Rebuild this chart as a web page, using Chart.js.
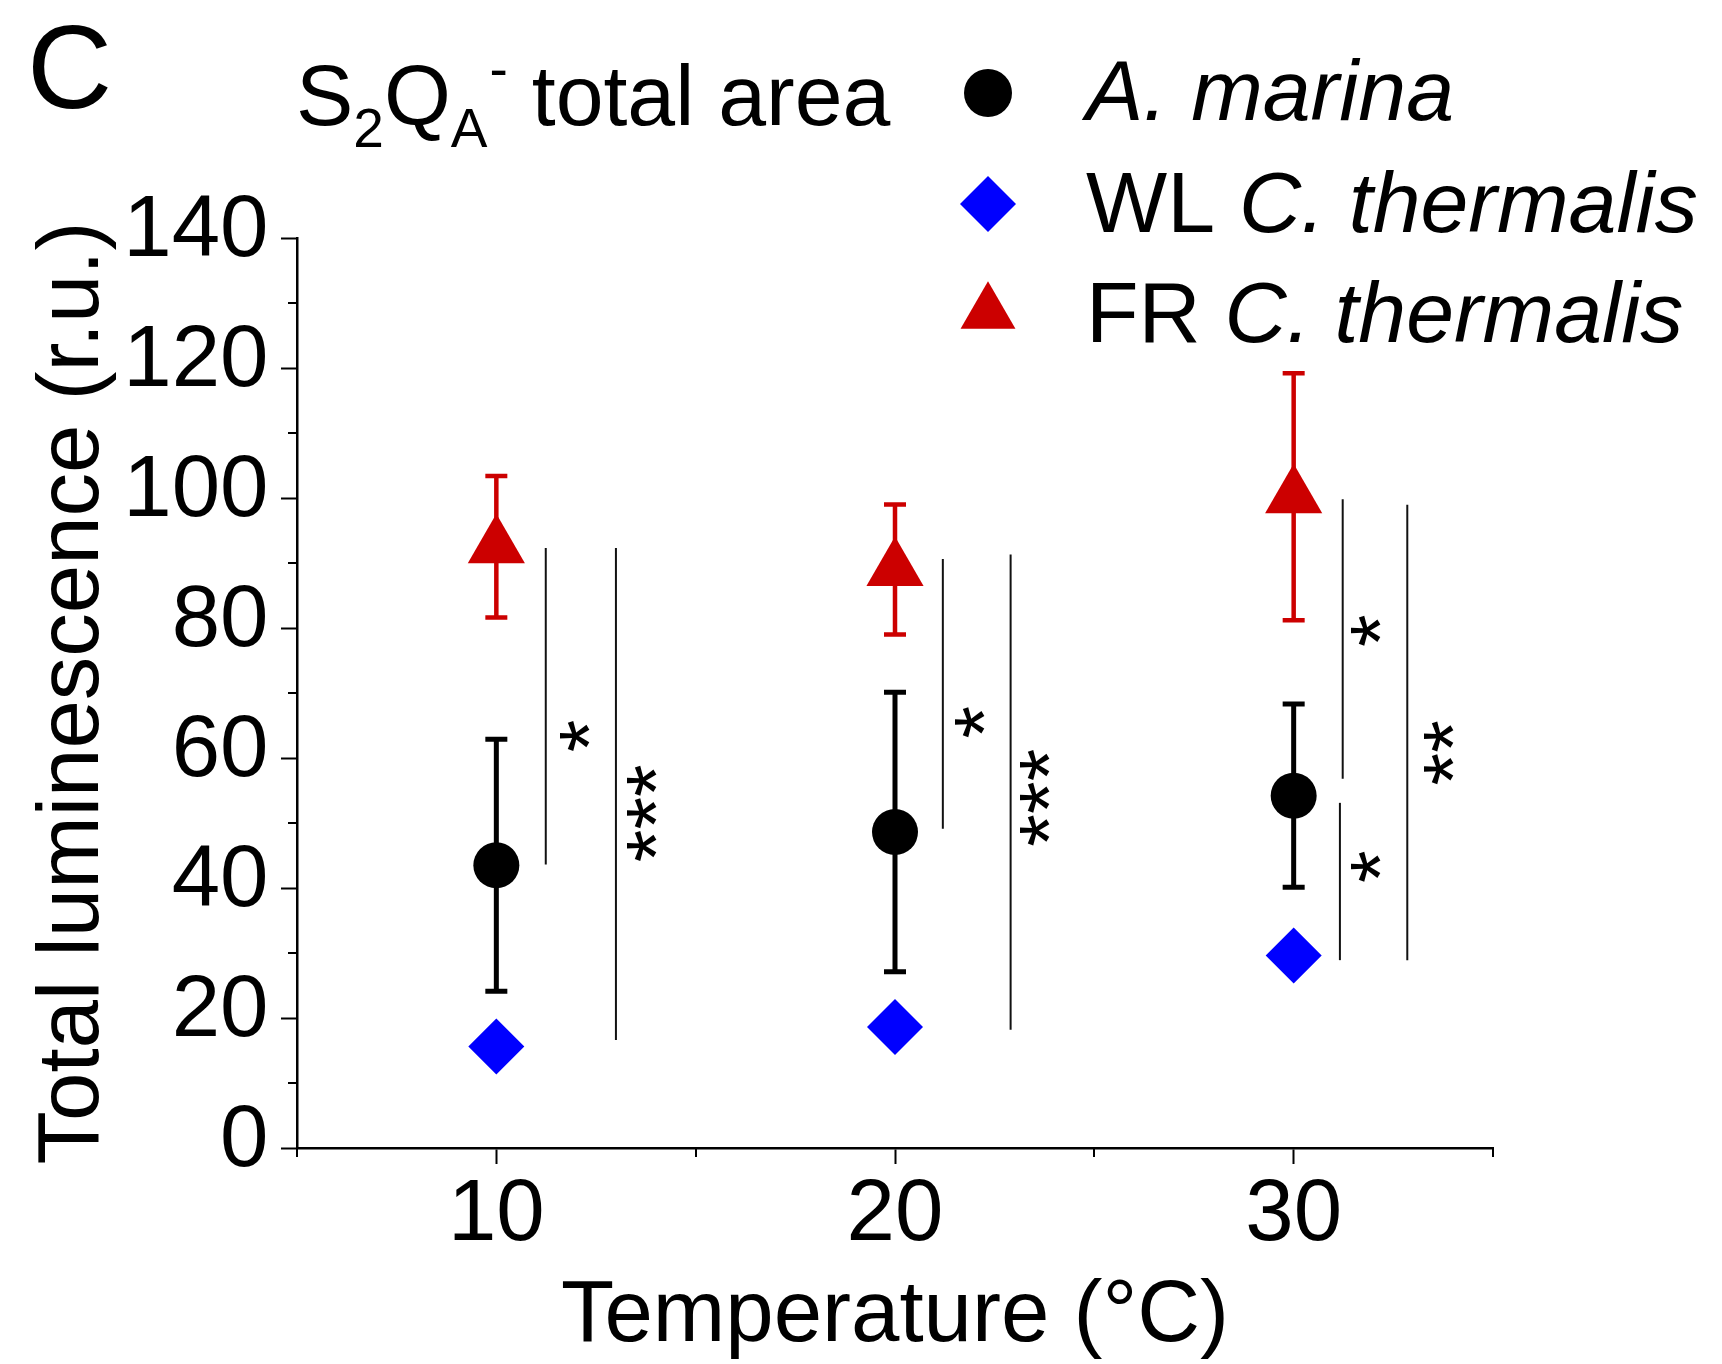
<!DOCTYPE html>
<html><head><meta charset="utf-8">
<script src="https://cdn.jsdelivr.net/npm/chart.js@4.4.1/dist/chart.umd.min.js"></script>
<style>html,body{margin:0;padding:0;background:#fff;} canvas{display:block;}</style>
</head><body>
<canvas id="c" width="1722" height="1364"></canvas>
<script>
// ---- data ----
const temperatures = [10, 20, 30];
const aMarinaMean = [43.5, 48.6, 54.2];
const aMarinaErr = [19.4, 21.5, 14.1];
const wlMean = [15.6, 18.6, 29.6];
const frMean = [92.5, 89.0, 100.2];
const frErr = [10.9, 10.0, 19.0];
const xTickLabels = [10, 20, 30];
const yTickLabels = [0, 20, 40, 60, 80, 100, 120, 140];
// significance brackets (x position, lower value, upper value)
const sigLineX = [11.24, 13.0, 21.2, 22.9, 31.23, 31.16, 32.85];
const sigLineLow = [43.6, 16.6, 49.1, 18.2, 56.8, 28.9, 28.9];
const sigLineHigh = [92.3, 92.3, 90.6, 91.3, 99.8, 53.1, 98.95];
// significance stars
const starX = [11.85, 13.52, 21.75, 23.38, 31.70, 31.70, 33.51];
const starY = [63.4, 51.5, 65.5, 53.9, 79.6, 43.3, 60.8];
const starText = ['*', '***', '*', '***', '*', '*', '**'];
// legend text: plain prefix + italic species name
const legendPrefix = ['', 'WL ', 'FR '];
const legendItalic = ['A. marina', 'C. thermalis', 'C. thermalis'];
const seriesNames = legendPrefix.map((p, i) => p + legendItalic[i]);

const FF = "'Liberation Sans', Arial, sans-serif";
const RED = '#cc0000', BLUE = '#0000ff', BLACK = '#000000';

const pts = arr => temperatures.map((t, i) => ({x: t, y: arr[i]}));

const datasets = [];
sigLineX.forEach((x, i) => {
  datasets.push({
    type: 'line', label: 'sig' + i,
    data: [{x: x, y: sigLineLow[i]}, {x: x, y: sigLineHigh[i]}],
    borderColor: '#111', borderWidth: 2, pointRadius: 0, fill: false, order: 10
  });
});
datasets.push({label: seriesNames[0], data: pts(aMarinaMean), err: aMarinaErr,
  pointStyle: 'circle', pointRadius: 23, backgroundColor: BLACK, borderColor: BLACK, pointBorderWidth: 0, errWidth: 5, order: 1});
datasets.push({label: seriesNames[1], data: pts(wlMean), err: null,
  pointStyle: 'rectRot', pointRadius: 28, backgroundColor: BLUE, borderColor: BLUE, pointBorderWidth: 0, order: 1});
datasets.push({label: seriesNames[2], data: pts(frMean), err: frErr,
  pointStyle: 'triangle', pointRadius: 33, backgroundColor: RED, borderColor: RED, pointBorderWidth: 0, errWidth: 4.5, order: 1});

const extras = {
  id: 'extras',
  beforeDatasetsDraw(chart) {
    const ctx = chart.ctx, xs = chart.scales.x, ys = chart.scales.y;
    ctx.save();
    chart.data.datasets.forEach(ds => {
      if (!ds.err) return;
      ctx.strokeStyle = ds.borderColor;
      ctx.lineWidth = ds.errWidth;
      ctx.lineCap = 'butt';
      ds.data.forEach((p, i) => {
        const px = xs.getPixelForValue(p.x);
        const t = ys.getPixelForValue(p.y + ds.err[i]);
        const b = ys.getPixelForValue(p.y - ds.err[i]);
        ctx.beginPath(); ctx.moveTo(px, t); ctx.lineTo(px, b); ctx.stroke();
        ctx.beginPath();
        ctx.moveTo(px - 11, t); ctx.lineTo(px + 11, t);
        ctx.moveTo(px - 11, b); ctx.lineTo(px + 11, b);
        ctx.stroke();
      });
    });
    ctx.restore();
  },
  afterDraw(chart) {
    const ctx = chart.ctx, xs = chart.scales.x, ys = chart.scales.y, ca = chart.chartArea;
    ctx.save();
    // minor ticks
    ctx.strokeStyle = '#000'; ctx.lineWidth = 2;
    for (let v = 10; v < 140; v += 20) {
      const py = Math.round(ys.getPixelForValue(v));
      ctx.beginPath(); ctx.moveTo(ca.left - 9, py); ctx.lineTo(ca.left, py); ctx.stroke();
    }
    for (let v = 5; v <= 35; v += 10) {
      const px = Math.round(xs.getPixelForValue(v));
      ctx.beginPath(); ctx.moveTo(px, ca.bottom); ctx.lineTo(px, ca.bottom + 9); ctx.stroke();
    }
    // significance stars
    ctx.fillStyle = '#000';
    ctx.font = `84px ${FF}`;
    ctx.textAlign = 'center'; ctx.textBaseline = 'alphabetic';
    starText.forEach((s, i) => {
      const px = xs.getPixelForValue(starX[i]);
      const py = ys.getPixelForValue(starY[i]);
      ctx.save();
      ctx.translate(px, py);
      ctx.rotate(-Math.PI / 2);
      ctx.fillText(s, 0, 48);
      ctx.restore();
    });
    // panel letter and title
    ctx.textAlign = 'left';
    ctx.font = `118px ${FF}`;
    ctx.fillText('C', 27, 108);
    let x = 296;
    const big = `86px ${FF}`, small = `55px ${FF}`;
    ctx.font = big; ctx.fillText('S', x, 125); x += ctx.measureText('S').width;
    ctx.font = small; ctx.fillText('2', x, 147); x += ctx.measureText('2').width;
    ctx.font = big; ctx.fillText('Q', x, 125); x += ctx.measureText('Q').width;
    ctx.font = small; ctx.fillText('A', x, 147); x += ctx.measureText('A').width;
    ctx.fillText('-', x + 2, 88); x += ctx.measureText('-').width + 2;
    ctx.font = big; ctx.fillText(' total area', x, 125);
    // legend
    const legY = [93, 204, 313];
    const legBase = [120, 232, 342];
    const series = chart.data.datasets.filter(d => d.err !== undefined);
    series.forEach((ds, i) => {
      ctx.fillStyle = ds.backgroundColor;
      const r = ds.pointStyle === 'circle' ? 24 : (ds.pointStyle === 'triangle' ? 31.7 : 28);
      Chart.helpers.drawPoint(ctx, {pointStyle: ds.pointStyle, radius: r, borderWidth: 0, rotation: 0}, 988, legY[i]);
      ctx.fillStyle = '#000';
      let tx = 1086;
      ctx.font = `86px ${FF}`;
      if (legendPrefix[i]) { ctx.fillText(legendPrefix[i], tx, legBase[i]); tx += ctx.measureText(legendPrefix[i]).width; }
      ctx.font = `italic 86px ${FF}`;
      ctx.fillText(legendItalic[i], tx, legBase[i]);
    });
    ctx.restore();
  }
};

new Chart(document.getElementById('c'), {
  type: 'scatter',
  data: {datasets},
  options: {
    responsive: false, animation: false, devicePixelRatio: 1,
    layout: {padding: {top: 238, right: 229, bottom: 0, left: 0}},
    plugins: {legend: {display: false}, tooltip: {enabled: false}, title: {display: false}},
    scales: {
      x: {
        type: 'linear', min: 5, max: 35,
        afterFit: s => { s.height = 216; },
        afterBuildTicks: s => { s.ticks = [5,10,15,20,25,30,35].map(v => ({value: v})); },
        ticks: {autoSkip: false, maxRotation: 0, minRotation: 0, color: '#000', padding: 0,
          font: {family: FF, size: 87},
          callback: v => xTickLabels.includes(v) ? String(v) : ''},
        grid: {drawOnChartArea: false, drawTicks: true, tickLength: 16, tickWidth: 2,
          tickColor: c => (c.tick && xTickLabels.includes(c.tick.value)) ? '#000' : 'rgba(0,0,0,0)'},
        border: {display: true, color: '#000', width: 2.5},
        title: {display: true, text: 'Temperature (°C)', color: '#000',
          font: {family: FF, size: 87, lineHeight: 1}, padding: {top: 0, bottom: 3.5}}
      },
      y: {
        type: 'linear', min: 0, max: 140,
        afterFit: s => { s.width = 297; },
        afterBuildTicks: s => { const t = []; for (let v = 0; v <= 140; v += 10) t.push({value: v}); s.ticks = t; },
        ticks: {autoSkip: false, color: '#000', padding: 12.5, labelOffset: -6,
          font: {family: FF, size: 87},
          callback: v => yTickLabels.includes(v) ? String(v) : ''},
        grid: {drawOnChartArea: false, drawTicks: true, tickLength: 16, tickWidth: 2,
          tickColor: c => (c.tick && yTickLabels.includes(c.tick.value)) ? '#000' : 'rgba(0,0,0,0)'},
        border: {display: true, color: '#000', width: 2.5},
        title: {display: true, text: 'Total luminescence (r.u.)', color: '#000',
          font: {family: FF, size: 87, lineHeight: 1}, padding: {top: 30.5, bottom: 0}}
      }
    }
  },
  plugins: [extras]
});
</script>
</body></html>
